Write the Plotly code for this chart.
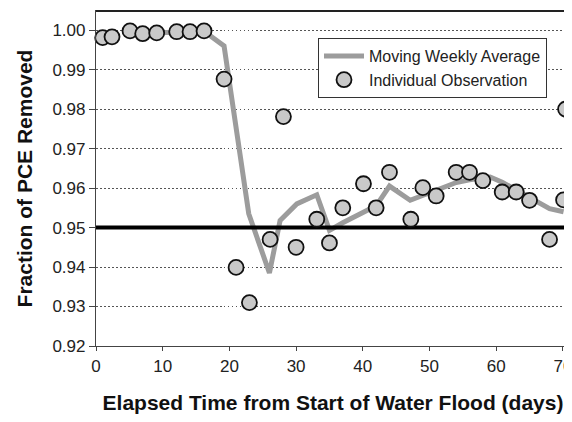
import plotly.graph_objects as go

# Individual observations
obs_days = [1.0, 2.4, 5.1, 7.0, 9.1, 12.1, 14.1, 16.2, 19.2, 21.0, 23.0, 26.1, 28.1,
            30.0, 33.1, 35.0, 37.0, 40.1, 42.0, 44.0, 47.2, 49.0, 51.0, 54.0, 56.0,
            58.0, 60.9, 63.0, 65.0, 68.0, 70.1, 70.4]
obs_vals = [0.9981, 0.9983, 0.9998, 0.9991, 0.9993, 0.9996, 0.9996, 0.9998, 0.9876,
            0.9399, 0.9310, 0.9470, 0.9781, 0.9450, 0.9521, 0.9461, 0.9550, 0.9611,
            0.9550, 0.9640, 0.9521, 0.9601, 0.9580, 0.9640, 0.9640, 0.9619, 0.9590,
            0.9590, 0.9569, 0.9470, 0.9570, 0.9800]

# Moving weekly average
avg_days = [7.0, 12.0, 16.2, 19.2, 22.9, 26.0, 27.6, 30.1, 33.1, 35.0, 37.0, 42.0,
            44.0, 47.1, 54.0, 56.0, 59.1, 60.9, 65.0, 68.0, 70.1]
avg_vals = [0.9992, 0.9995, 0.9997, 0.9960, 0.9535, 0.9385, 0.9518, 0.9560, 0.9583,
            0.9493, 0.9512, 0.9555, 0.9605, 0.9569, 0.9614, 0.9621, 0.9628, 0.9615,
            0.9577, 0.9548, 0.9540]

target_level = 0.95
x_range = [0, 474 / 6.67]
y_range = [0.92, 0.92 + 336 / 3960]
y_ticks = [0.92, 0.93, 0.94, 0.95, 0.96, 0.97, 0.98, 0.99, 1.00]
x_ticks = [0, 10, 20, 30, 40, 50, 60, 70]

FONT = "Liberation Sans, Arial, Helvetica, sans-serif"

fig = go.Figure()
fig.add_trace(go.Scatter(
    x=avg_days, y=avg_vals, mode="lines", name="Moving Weekly Average",
    line=dict(color="#9c9c9c", width=5),
))
fig.add_trace(go.Scatter(
    x=x_range, y=[target_level, target_level], mode="lines", showlegend=False,
    line=dict(color="black", width=4), hoverinfo="skip",
))
fig.add_trace(go.Scatter(
    x=obs_days, y=obs_vals, mode="markers", name="Individual Observation",
    marker=dict(size=15, color="#c9c9c9", line=dict(color="#111111", width=1.8)),
    cliponaxis=False,
))

# the page has an 8px body margin, so the figure is 8px smaller than the window
fig.update_layout(
    width=564, height=406,
    margin=dict(l=88, r=2, t=3, b=68),
    paper_bgcolor="white", plot_bgcolor="white",
    font=dict(family=FONT, color="#222222"),
    showlegend=True,
    legend=dict(
        x=(310 - 88) / 474, y=(338 - 30) / 335, xanchor="left", yanchor="top",
        bgcolor="white", bordercolor="#333333", borderwidth=1,
        font=dict(size=16, family=FONT, color="#222222"),
        itemwidth=40, tracegroupgap=0,
    ),
    shapes=[dict(type="line", xref="paper", yref="paper", x0=0, x1=1, y0=1, y1=1,
                 line=dict(color="#222222", width=2), layer="above")],
    xaxis=dict(
        range=x_range, tickvals=x_ticks, ticktext=[str(v) for v in x_ticks],
        showgrid=False, zeroline=False, automargin=False,
        showline=True, linecolor="#444444", linewidth=1.2, mirror=True,
        ticks="outside", ticklen=4, tickcolor="#444444",
        ticklabeloverflow="allow",
        tickfont=dict(size=17, family=FONT, color="#222222"),
        title=dict(text="<b>Elapsed Time from Start of Water Flood (days)</b>",
                   font=dict(size=21, family=FONT, color="#111111"), standoff=22),
    ),
    yaxis=dict(
        range=y_range, tickvals=y_ticks,
        ticktext=[f"{v:.2f}" for v in y_ticks],
        showgrid=True, gridcolor="#555555", griddash="1.5px,2.5px", gridwidth=1.2,
        zeroline=False, automargin=False,
        showline=True, linecolor="#444444", linewidth=1.2,
        ticks="outside", ticklen=6, tickcolor="#444444",
        tickfont=dict(size=17, family=FONT, color="#222222"),
        title=dict(text="<b>Fraction of PCE Removed</b>",
                   font=dict(size=21, family=FONT, color="#111111"), standoff=14),
    ),
)

fig.write_html("out.html")
